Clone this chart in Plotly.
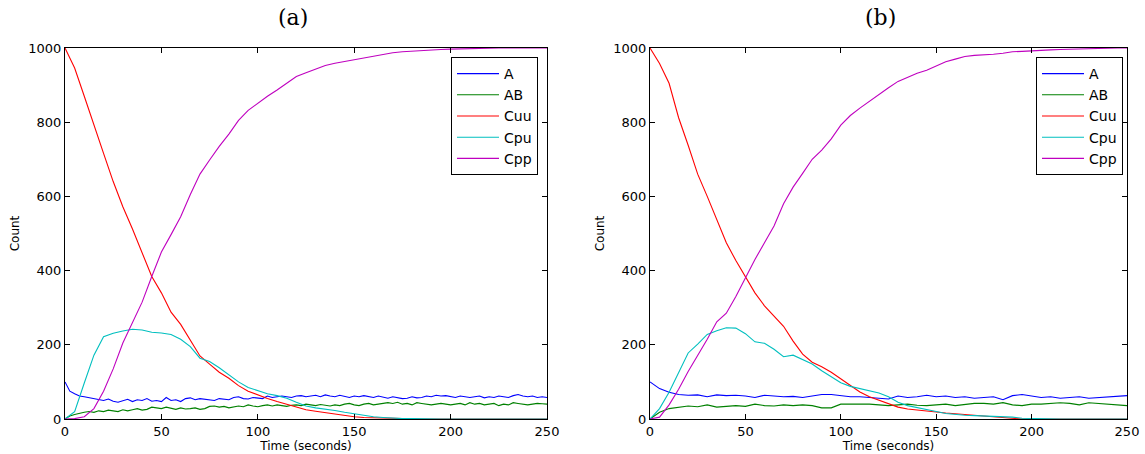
import numpy as np
import plotly.graph_objects as go

# time axes
t5 = [i * 5 for i in range(51)]
t25 = [i * 2.5 for i in range(101)]

series_names = ["A", "AB", "Cuu", "Cpu", "Cpp"]
colors = {"A": "#0000ff", "AB": "#008000", "Cuu": "#ff0000", "Cpu": "#00bfbf", "Cpp": "#bf00bf"}

# ---------- panel (a) ----------
A_a = [100, 75, 68, 62, 60, 57, 55, 52, 50, 54, 48, 45, 50, 53, 47, 52, 50, 55, 48, 50,
       47, 58, 50, 52, 47, 55, 57, 52, 55, 53, 52, 50, 55, 53, 52, 58, 60, 55, 54, 58,
       57, 55, 62, 58, 60, 62, 60, 58, 62, 63, 60, 62, 64, 60, 65, 62, 60, 64, 61, 58,
       62, 60, 63, 60, 58, 62, 60, 56, 60, 58, 55, 56, 60, 57, 58, 62, 60, 64, 62, 63,
       60, 58, 62, 60, 58, 60, 62, 57, 60, 58, 62, 60, 58, 63, 66, 62, 60, 62, 58, 60, 58]
AB_a = [0, 8, 12, 16, 18, 20, 18, 22, 20, 24, 22, 20, 25, 22, 25, 28, 24, 26, 32, 30,
        28, 32, 28, 26, 30, 27, 28, 30, 26, 28, 34, 35, 32, 34, 30, 32, 35, 33, 38, 35,
        33, 36, 38, 35, 38, 36, 34, 37, 38, 36, 40, 38, 36, 39, 37, 35, 38, 36, 40, 42,
        38, 36, 40, 42, 38, 40, 42, 44, 42, 45, 40, 42, 38, 44, 42, 40, 38, 40, 42, 40,
        38, 40, 42, 38, 44, 40, 42, 38, 40, 42, 36, 40, 38, 44, 42, 40, 38, 40, 42, 41, 40]
Cuu_a = [1000, 946, 870, 790, 716, 640, 572, 512, 450, 384, 340, 288, 255, 212, 170, 148, 126, 110, 90, 75,
         64, 55, 47, 39, 31, 25, 21, 17, 14, 10, 6, 4, 3, 2, 1, 0, 0, 0, 0, 0,
         0, 0, 0, 0, 0, 0, 0, 0, 0, 0, 0]
Cpu_a = [0, 20, 97, 172, 222, 231, 237, 242, 240, 234, 232, 228, 215, 195, 164, 155, 138, 120, 100, 85,
         76, 68, 63, 56, 45, 35, 30, 27, 23, 18, 14, 9, 6, 4, 2, 1, 1, 0, 0, 0,
         0, 0, 0, 0, 0, 0, 0, 0, 0, 0, 0]
Cpp_a = [0, 1, 6, 28, 75, 135, 205, 260, 315, 384, 450, 497, 545, 605, 660, 698, 735, 768, 805, 832,
         852, 870, 887, 905, 923, 933, 943, 953, 959, 964, 969, 974, 979, 984, 987, 990, 992, 994, 995, 996,
         997, 998, 999, 1000, 1000, 1000, 1000, 1000, 1000, 1000, 1000]

# ---------- panel (b) ----------
A_b = [100, 82, 72, 66, 64, 65, 60, 65, 63, 64, 62, 58, 64, 62, 60, 61, 58, 62, 66, 66,
       62, 60, 60, 58, 56, 54, 62, 58, 60, 64, 60, 62, 58, 60, 56, 58, 60, 52, 63, 66,
       62, 58, 60, 56, 58, 60, 56, 58, 60, 62, 63]
AB_b = [0, 18, 28, 32, 35, 33, 38, 32, 35, 36, 34, 40, 36, 35, 38, 36, 38, 36, 30, 30,
        40, 40, 42, 40, 38, 36, 38, 40, 37, 36, 38, 40, 36, 40, 42, 42, 40, 44, 38, 36,
        40, 40, 42, 44, 42, 38, 44, 42, 40, 38, 36]
Cuu_b = [1000, 958, 905, 812, 738, 660, 600, 535, 475, 427, 382, 340, 305, 278, 250, 210, 175, 153, 141, 126,
         108, 89, 73, 60, 50, 41, 32, 27, 24, 21, 19, 16, 14, 12, 9, 6, 4, 2, 1, 0,
         0, 0, 0, 0, 0, 0, 0, 0, 0, 0, 0]
Cpu_b = [0, 28, 72, 125, 178, 202, 228, 238, 246, 245, 230, 208, 204, 188, 168, 172, 160, 148, 130, 114,
         98, 88, 82, 76, 70, 60, 45, 36, 30, 25, 20, 15, 12, 10, 9, 8, 8, 7, 5, 2,
         1, 1, 1, 0, 0, 0, 0, 0, 0, 0, 0]
Cpp_b = [0, 5, 38, 80, 128, 171, 215, 262, 285, 330, 381, 430, 475, 520, 580, 625, 662, 700, 725, 755,
         792, 818, 838, 857, 874, 893, 910, 922, 932, 940, 952, 963, 970, 977, 980, 981, 983, 986, 990, 991,
         993, 995, 995, 996, 997, 997, 998, 999, 1000, 1000, 1000]

x_ticks = [0, 50, 100, 150, 200, 250]
y_ticks = [0, 200, 400, 600, 800, 1000]

W, H = 1145, 454
fig = go.Figure()

panels = [
    ("x", "y", "legend", {"A": (t25, A_a), "AB": (t25, AB_a), "Cuu": (t5, Cuu_a), "Cpu": (t5, Cpu_a), "Cpp": (t5, Cpp_a)}),
    ("x2", "y2", "legend2", {"A": (t5, A_b), "AB": (t5, AB_b), "Cuu": (t5, Cuu_b), "Cpu": (t5, Cpu_b), "Cpp": (t5, Cpp_b)}),
]
for xa, ya, lg, data in panels:
    for name in series_names:
        tx, vy = data[name]
        fig.add_trace(go.Scatter(x=tx, y=vy, mode="lines", name=name,
                                 line=dict(color=colors[name], width=1.1),
                                 xaxis=xa, yaxis=ya, legend=lg))

ydom = [(H - 419) / H, (H - 48) / H]
axis_common = dict(showline=True, linecolor="black", linewidth=1, mirror="ticks",
                   ticks="inside", ticklen=5, tickcolor="black", showgrid=False, zeroline=False,
                   automargin=False,
                   tickfont=dict(family="DejaVu Sans", size=13, color="black"))
title_font = dict(family="DejaVu Sans", size=12, color="black")
legend_common = dict(xanchor="left", yanchor="top", bgcolor="white", itemwidth=42,
                     bordercolor="black", borderwidth=1,
                     font=dict(family="DejaVu Sans", size=14, color="black"))

fig.update_layout(
    width=W, height=H, margin=dict(l=0, r=0, t=0, b=0),
    paper_bgcolor="white", plot_bgcolor="white",
    showlegend=True,
    xaxis=dict(domain=[65 / W, 547 / W], range=[0, 250], tickvals=x_ticks, anchor="y",
               title=dict(text="Time (seconds)", font=title_font, standoff=2),
               **axis_common),
    yaxis=dict(domain=ydom, range=[0, 1000], tickvals=y_ticks, anchor="x",
               title=dict(text="Count", font=title_font, standoff=6),
               **axis_common),
    xaxis2=dict(domain=[650 / W, 1127 / W], range=[0, 250], tickvals=x_ticks, anchor="y2",
                title=dict(text="Time (seconds)", font=title_font, standoff=2),
                **axis_common),
    yaxis2=dict(domain=ydom, range=[0, 1000], tickvals=y_ticks, anchor="x2",
                title=dict(text="Count", font=title_font, standoff=6),
                **axis_common),
    legend=dict(x=451 / W, y=1 - 57 / H, **legend_common),
    legend2=dict(x=1036 / W, y=1 - 57 / H, **legend_common),
    annotations=[
        dict(text="(a)", x=293 / W, y=1 - 18 / H, xref="paper", yref="paper", showarrow=False,
             font=dict(family="DejaVu Serif", size=22, color="black"), xanchor="center", yanchor="middle"),
        dict(text="(b)", x=880 / W, y=1 - 18 / H, xref="paper", yref="paper", showarrow=False,
             font=dict(family="DejaVu Serif", size=22, color="black"), xanchor="center", yanchor="middle"),
    ],
)

fig.write_html("out.html", config={"displayModeBar": False},
               post_script="document.body.style.margin='0';document.body.style.overflow='hidden';")
